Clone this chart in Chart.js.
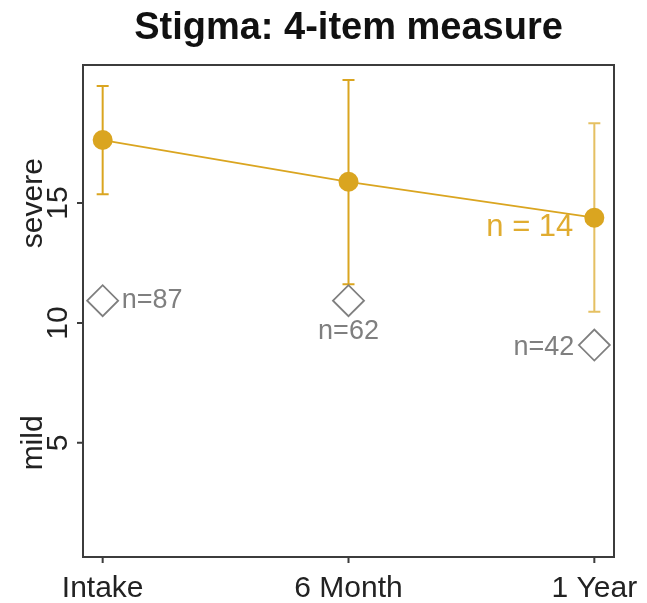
<!DOCTYPE html>
<html>
<head>
<meta charset="utf-8">
<script src="https://cdn.jsdelivr.net/npm/chart.js@4/dist/chart.umd.min.js"></script>
<style>
  html, body { margin: 0; padding: 0; background: #ffffff; }
  #wrap { width: 647px; height: 603px; }
</style>
</head>
<body>
<div id="wrap"><canvas id="c" width="647" height="603"></canvas></div>
<script>
// ---- data ----
const chartTitle = 'Stigma: 4-item measure';
const categories = ['Intake', '6 Month', '1 Year'];
const xPositions = [1, 2, 3];
const meanValues = [17.63, 15.89, 14.39];
const upperValues = [19.88, 20.13, 18.33];
const lowerValues = [15.37, 11.62, 10.47];
const mildValues = [10.93, 10.93, 9.08];
const mildLabels = ['n=87', 'n=62', 'n=42'];
const seriesLabel = 'n = 14';
const yTicks = [5, 10, 15];
const yTickLabels = ['5', '10', '15'];
const yTickOuterLabels = ['mild', '', 'severe'];

const GOLD = '#DAA520';
const GOLD_LIGHT = 'rgba(218,165,32,0.7)';
const GRAY = '#7f7f7f';
const FONT = '"Liberation Sans", Arial, Helvetica, sans-serif';

const extras = {
  id: 'extras',
  beforeDatasetsDraw(chart) {
    const ctx = chart.ctx;
    const xs = chart.scales.x, ys = chart.scales.y;
    ctx.save();
    ctx.lineWidth = 2;
    for (let i = 0; i < xPositions.length; i++) {
      const x = xs.getPixelForValue(xPositions[i]);
      const yt = ys.getPixelForValue(upperValues[i]);
      const yb = ys.getPixelForValue(lowerValues[i]);
      ctx.strokeStyle = i === 2 ? GOLD_LIGHT : GOLD;
      ctx.beginPath();
      ctx.moveTo(x, yt); ctx.lineTo(x, yb);
      ctx.moveTo(x - 6, yt); ctx.lineTo(x + 6, yt);
      ctx.moveTo(x - 6, yb); ctx.lineTo(x + 6, yb);
      ctx.stroke();
    }
    ctx.restore();
  },
  afterDraw(chart) {
    const ctx = chart.ctx;
    const a = chart.chartArea;
    const xs = chart.scales.x, ys = chart.scales.y;
    ctx.save();
    // box
    ctx.strokeStyle = '#3c3c3c';
    ctx.lineWidth = 2;
    ctx.strokeRect(a.left, a.top, a.right - a.left, a.bottom - a.top);
    // x axis ticks & labels
    ctx.fillStyle = '#222';
    ctx.font = '30px ' + FONT;
    ctx.textAlign = 'center';
    ctx.textBaseline = 'alphabetic';
    ctx.beginPath();
    for (let i = 0; i < categories.length; i++) {
      const x = xs.getPixelForValue(xPositions[i]);
      ctx.moveTo(x, a.bottom); ctx.lineTo(x, a.bottom + 6);
      ctx.fillText(categories[i], x, a.bottom + 40);
    }
    ctx.stroke();
    // y axis ticks & labels (rotated)
    ctx.beginPath();
    for (let i = 0; i < yTicks.length; i++) {
      const y = ys.getPixelForValue(yTicks[i]);
      ctx.moveTo(a.left, y); ctx.lineTo(a.left - 6, y);
    }
    ctx.stroke();
    for (let i = 0; i < yTicks.length; i++) {
      const y = ys.getPixelForValue(yTicks[i]);
      ctx.save();
      ctx.translate(0, y);
      ctx.rotate(-Math.PI / 2);
      ctx.textAlign = 'center';
      ctx.textBaseline = 'alphabetic';
      ctx.fillText(yTickLabels[i], 0, 67);
      if (yTickOuterLabels[i]) ctx.fillText(yTickOuterLabels[i], 0, 42);
      ctx.restore();
    }
    // title
    ctx.font = 'bold 38px ' + FONT;
    ctx.textAlign = 'center';
    ctx.fillStyle = '#111';
    ctx.fillText(chartTitle, (a.left + a.right) / 2, 39);
    // mild labels
    ctx.font = '27px ' + FONT;
    ctx.fillStyle = GRAY;
    ctx.textBaseline = 'middle';
    const p = i => [xs.getPixelForValue(xPositions[i]), ys.getPixelForValue(mildValues[i])];
    let [x0, y0] = p(0);
    ctx.textAlign = 'left';
    ctx.fillText(mildLabels[0], x0 + 19, y0);
    let [x1, y1] = p(1);
    ctx.textAlign = 'center';
    ctx.fillText(mildLabels[1], x1, y1 + 31);
    let [x2, y2] = p(2);
    ctx.textAlign = 'right';
    ctx.fillText(mildLabels[2], x2 - 20, y2 + 3);
    // series label
    ctx.font = '31px ' + FONT;
    ctx.fillStyle = '#E0AC30';
    ctx.textAlign = 'right';
    const xl = xs.getPixelForValue(xPositions[2]);
    const yl = ys.getPixelForValue(meanValues[2]);
    ctx.fillText(seriesLabel, xl - 21, yl + 10);
    ctx.restore();
  }
};

new Chart(document.getElementById('c'), {
  type: 'line',
  data: {
    datasets: [
      {
        label: 'severe',
        data: xPositions.map((x, i) => ({ x: x, y: meanValues[i] })),
        borderColor: GOLD,
        borderWidth: 1.8,
        pointRadius: 10,
        pointBackgroundColor: GOLD,
        pointBorderColor: GOLD,
        pointBorderWidth: 0,
        tension: 0,
        order: 1
      },
      {
        label: 'mild',
        data: xPositions.map((x, i) => ({ x: x, y: mildValues[i] })),
        showLine: false,
        pointStyle: 'rectRot',
        pointRadius: 15.5,
        pointBackgroundColor: 'rgba(255,255,255,0)',
        pointBorderColor: GRAY,
        pointBorderWidth: 1.8,
        order: 2
      }
    ]
  },
  options: {
    responsive: false,
    animation: false,
    devicePixelRatio: 1,
    layout: { padding: { left: 83, right: 33, top: 65, bottom: 46 } },
    scales: {
      x: { type: 'linear', min: 0.92, max: 3.08, display: false },
      y: { type: 'linear', min: 0.24, max: 20.76, display: false }
    },
    plugins: { legend: { display: false }, tooltip: { enabled: false } }
  },
  plugins: [extras]
});
</script>
</body>
</html>
